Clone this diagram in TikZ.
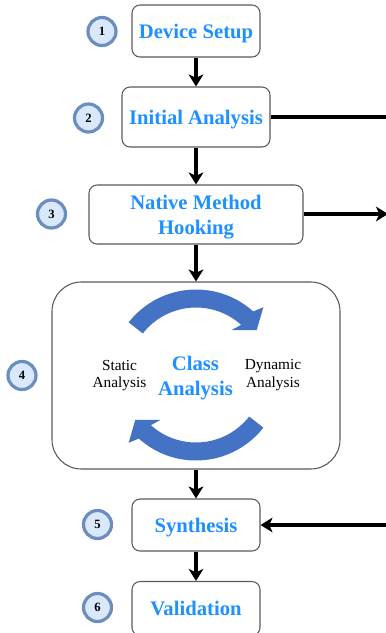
\documentclass[tikz,border=0pt]{standalone}
\usepackage{fontspec}
\setmainfont{Liberation Serif}
\usetikzlibrary{arrows.meta,calc}
\definecolor{txtblue}{RGB}{30,144,255}
\definecolor{circfill}{RGB}{218,232,252}
\definecolor{circdraw}{RGB}{108,142,191}
\definecolor{arcblue}{RGB}{68,114,196}
\definecolor{boxdraw}{RGB}{90,90,90}
\begin{document}
\begin{tikzpicture}[x=0.75pt,y=-0.75pt,
 stepbox/.style={draw=boxdraw, line width=0.8pt, rounded corners=6pt, fill=white, text=txtblue, font=\fontsize{15.5}{18.5}\selectfont\bfseries, align=center, inner sep=0pt, text depth=0pt},
 numcirc/.style={circle, draw=circdraw, fill=circfill, line width=2.4pt, minimum size=21pt, inner sep=0pt, font=\fontsize{9.5}{10}\selectfont\bfseries},
 flow/.style={line width=2.5pt, -{Stealth[length=9pt,width=11pt,inset=2.5pt]}},
 plainline/.style={line width=2.5pt},
 side/.style={font=\fontsize{11.5}{13}\selectfont, align=center, inner sep=0pt},
 title/.style={font=\fontsize{15.5}{18.5}\selectfont\bfseries, text=txtblue, align=center, inner sep=0pt}]
\useasboundingbox (0,0) rectangle (386,633);
% boxes
\node[stepbox, minimum width=128*0.75pt, minimum height=52*0.75pt] (b1) at (196,31) {Device Setup};
\node[stepbox, minimum width=148*0.75pt, minimum height=60*0.75pt] (b2) at (196,117) {Initial Analysis};
\node[stepbox, minimum width=214*0.75pt, minimum height=59*0.75pt] (b3) at (196,214.5) {Native Method\\Hooking};
\node[stepbox, rounded corners=22pt, minimum width=288*0.75pt, minimum height=187*0.75pt] (b4) at (196,375.5) {};
\node[stepbox, minimum width=128*0.75pt, minimum height=52*0.75pt] (b5) at (196,525) {Synthesis};
\node[stepbox, minimum width=128*0.75pt, minimum height=54*0.75pt] (b6) at (196,608.5) {Validation};
% numbers
\node[numcirc] (n1) at (102,31.5) {1};
\node[numcirc] (n2) at (88.5,118) {2};
\node[numcirc] (n3) at (51.5,214) {3};
\node[numcirc] (n4) at (22,375.5) {4};
\node[numcirc] (n5) at (97.5,524.5) {5};
\node[numcirc] (n6) at (97.5,607.5) {6};
% cycle
\coordinate (C) at (196,375);
\fill[arcblue] ($(C)+(-142:85.5)$) arc[start angle=-142, end angle=-48, radius=85.5] -- ($(C)+(-45.2:95.5)$) -- ($(C)+(-36.5:75.6)$) -- ($(C)+(-51.6:57.4)$) -- ($(C)+(-48:67.5)$) arc[start angle=-48, end angle=-142, radius=67.5] -- cycle;
\fill[arcblue] ($(C)+(38:85.5)$) arc[start angle=38, end angle=132, radius=85.5] -- ($(C)+(134.8:95.5)$) -- ($(C)+(143.5:75.6)$) -- ($(C)+(128.4:57.4)$) -- ($(C)+(132:67.5)$) arc[start angle=132, end angle=38, radius=67.5] -- cycle;
\node[side] (st) at (119.5,375.5) {Static\\Analysis};
\node[title] (ca) at (195.5,378) {Class\\Analysis};
\node[side] (dy) at (273,375) {Dynamic\\Analysis};
% connectors
\coordinate (e2) at (392,117);
\coordinate (e3) at (388,214);
\coordinate (e5) at (392,525);
\draw[flow] (b1) -- (b2);
\draw[flow] (b2) -- (b3);
\draw[flow] (b3) -- (b4);
\draw[flow] (b4) -- (b5);
\draw[flow] (b5) -- (b6);
\draw[plainline] (b2.east) -- (e2);
\draw[flow] (b3.east |- e3) -- (e3);
\draw[flow] (e5) -- (b5.east);
\end{tikzpicture}
\end{document}
